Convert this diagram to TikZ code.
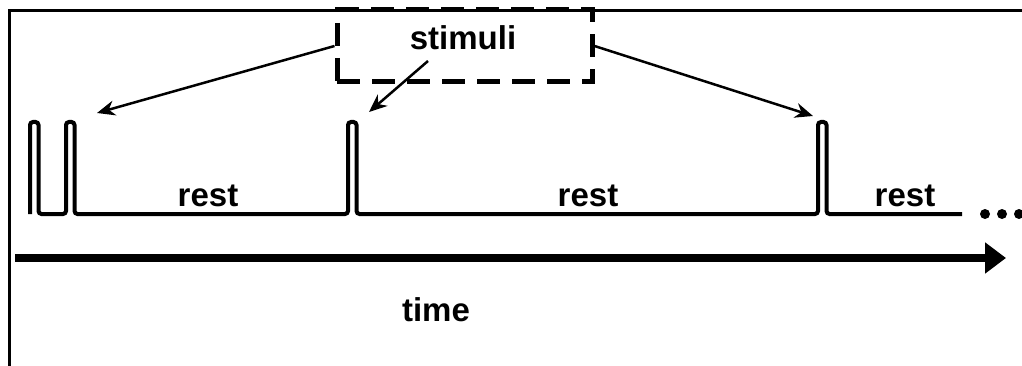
\documentclass[tikz,border=0pt]{standalone}
\usepackage{fontspec}
\setmainfont{Liberation Sans}
\usetikzlibrary{arrows.meta}
\begin{document}
\begin{tikzpicture}[x=1pt,y=-1pt,
  lbl/.style={font=\fontsize{33}{38}\selectfont\bfseries, inner sep=0pt, anchor=base},
  frameline/.style={line width=3pt},
  signal/.style={line width=4pt, rounded corners=3pt},
  pointer/.style={line width=2.5pt, -{Stealth[length=18pt,width=15pt]}},
  stimbox/.style={draw, line width=5pt, dash pattern=on 23pt off 12pt,
    minimum width=255pt, minimum height=72pt, inner sep=0pt},
  timearrow/.style={line width=8pt, -{Triangle[length=21pt,width=30pt]}}]
  \useasboundingbox (0,0) rectangle (1022,366);
  % open frame (left and top edges)
  \draw[frameline] (9.5,366) -- (9.5,10.5) -- (1022,10.5);
  % stimulus train on the baseline
  \draw[signal] (30,214) -- (30,122) -- (38.5,122) -- (38.5,214)
    -- (66,214) -- (66,122) -- (74.5,122) -- (74.5,214)
    -- (348,214) -- (348,122) -- (356.5,122) -- (356.5,214)
    -- (818,214) -- (818,122) -- (826.5,122) -- (826.5,214)
    -- (962,214);
  % continuation dots
  \foreach \cx in {985,1002,1019} \fill (\cx,214) circle (5pt);
  % rest labels
  \node[lbl] (r1) at (208,207) {rest};
  \node[lbl] (r2) at (588,207) {rest};
  \node[lbl] (r3) at (905,207) {rest};
  % stimuli box and label
  \node[stimbox] (box) at (464.5,46) {};
  \node[lbl] (stim) at (463,50) {stimuli};
  % pointers from the box to each stimulus
  \coordinate (p1) at (97,113);
  \coordinate (p2) at (369,112);
  \coordinate (p3) at (813,116);
  \coordinate (m) at (428,61);
  \draw[pointer] (box.west) -- (p1);
  \draw[pointer] (m) -- (p2);
  \draw[pointer] (box.east) -- (p3);
  % time axis
  \coordinate (t0) at (15,258);
  \coordinate (t1) at (1006,258);
  \draw[timearrow] (t0) -- (t1);
  \node[lbl] (time) at (436,321) {time};
\end{tikzpicture}
\end{document}
